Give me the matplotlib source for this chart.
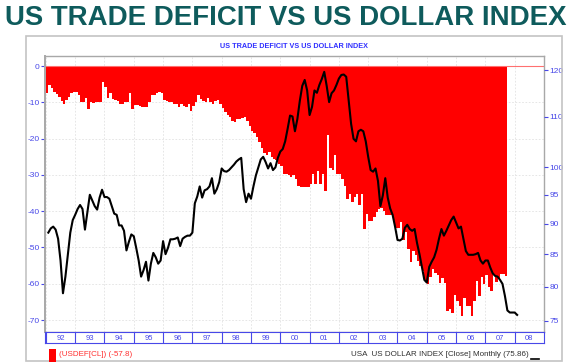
import matplotlib
matplotlib.use("Agg")
import matplotlib.pyplot as plt
from matplotlib.patches import Rectangle
from matplotlib.lines import Line2D
import numpy as np

# US trade deficit, monthly, Jan 1992 .. Sep 2007 (billions USD)
deficit_1992_1995 = [
    -7.5, -5.3, -6.0, -7.0, -7.7, -8.6, -9.5, -10.3, -9.4, -8.5, -7.5, -7.2,
    -7.2, -8.0, -10.0, -10.0, -8.7, -11.7, -10.0, -10.2, -10.0, -9.8, -10.0, -4.3,
    -5.7, -8.7, -7.4, -9.0, -9.3, -9.5, -10.3, -10.3, -10.0, -10.0, -7.3, -11.7,
    -10.8, -10.8, -11.0, -11.3, -11.3, -11.3, -10.0, -8.0, -8.0, -7.5, -7.0, -7.5,
]
deficit_1996_1999 = [
    -9.4, -9.6, -9.9, -9.9, -10.4, -10.4, -11.3, -10.4, -11.0, -11.3, -10.5, -12.4,
    -11.0, -10.0, -8.0, -9.0, -9.5, -10.0, -8.7, -10.0, -10.4, -9.5, -9.2, -10.5,
    -11.5, -12.7, -13.5, -14.0, -15.0, -15.5, -14.5, -14.5, -14.3, -14.0, -15.0, -16.5,
    -17.9, -18.5, -19.6, -21.0, -22.5, -24.0, -24.6, -23.6, -25.0, -25.5, -26.0, -27.0,
]
deficit_2000_2003 = [
    -27.5, -29.6, -29.6, -30.0, -30.6, -30.0, -31.0, -33.0, -33.4, -33.4, -33.4, -33.4,
    -32.5, -29.7, -32.5, -28.8, -32.5, -29.7, -34.3, -19.0, -28.0, -28.5, -24.6, -29.7,
    -29.7, -31.0, -33.0, -36.6, -35.2, -37.5, -36.0, -35.2, -38.4, -35.2, -44.9, -40.8,
    -42.6, -42.6, -41.7, -40.2, -39.5, -39.0, -39.8, -41.0, -41.0, -41.0, -43.0, -44.5,
]
deficit_2004_2007 = [
    -44.5, -43.0, -48.0, -45.7, -50.4, -54.0, -51.0, -52.0, -53.6, -55.0, -56.4, -59.2,
    -60.0, -58.0, -56.0, -57.0, -57.6, -59.8, -58.5, -59.8, -67.5, -67.0, -68.0, -63.0,
    -64.7, -66.0, -68.9, -64.0, -66.2, -66.2, -68.9, -64.7, -59.2, -63.3, -58.1, -60.0,
    -57.7, -60.9, -62.0, -57.3, -59.6, -58.7, -57.3, -57.3, -57.8,
]
deficit = deficit_1992_1995 + deficit_1996_1999 + deficit_2000_2003 + deficit_2004_2007

# US dollar index, monthly close, Jan 1992 .. Jan 2008
dollar_1992_1995 = [
    88.5, 89.2, 89.5, 89.0, 87.5, 84.0, 79.0, 81.5, 85.0, 88.5, 90.6, 91.5,
    92.5, 93.2, 92.5, 89.0, 92.0, 95.0, 94.0, 93.0, 92.4, 94.5, 95.9, 94.6,
    94.6, 94.3, 93.0, 91.7, 91.5, 89.7, 89.7, 88.8, 85.6, 87.0, 88.2, 87.9,
    86.0, 84.0, 81.5, 82.5, 83.8, 80.9, 83.5, 85.2, 84.5, 83.5, 84.0, 87.1,
]
dollar_1996_1999 = [
    85.0, 86.0, 87.4, 87.4, 87.5, 87.7, 86.3, 87.5, 87.8, 88.0, 88.0, 88.5,
    93.5, 94.7, 96.5, 94.5, 95.8, 96.0, 96.5, 98.0, 95.2, 96.0, 97.3, 99.8,
    99.3, 99.2, 99.5, 100.0, 100.5, 101.1, 101.5, 101.8, 96.0, 93.7, 95.2, 94.3,
    96.5, 98.5, 100.0, 101.5, 102.0, 101.0, 99.8, 100.8, 99.5, 100.0, 101.8, 103.0,
]
dollar_2000_2003 = [
    103.5, 105.0, 107.5, 110.2, 110.0, 107.0, 109.5, 113.3, 116.5, 117.8, 115.5, 110.3,
    112.0, 115.5, 115.0, 116.7, 118.0, 119.6, 116.5, 113.0, 114.9, 115.5, 116.7, 118.1,
    118.9, 119.0, 118.5, 113.5, 108.5, 105.5, 105.0, 107.0, 107.3, 107.0, 105.0, 102.0,
    99.5, 99.2, 99.8, 97.5, 93.0, 94.9, 98.0, 94.5, 92.6, 91.5, 89.5, 87.3,
]
dollar_2004_2008 = [
    87.2, 87.5, 89.3, 89.8, 89.1, 88.8, 89.1, 86.8, 85.0, 83.0, 81.0, 80.6,
    83.0, 83.8, 84.5, 85.7, 87.5, 89.1, 88.0, 88.8, 89.7, 90.6, 91.2, 90.2,
    89.2, 89.5, 87.5, 85.5, 84.9, 84.9, 84.9, 85.0, 85.2, 84.0, 83.5, 84.0,
    84.0, 82.9, 82.0, 81.6, 81.5, 81.0, 80.4, 78.6, 76.5, 76.2, 76.2, 76.2,
    75.86,
]
dollar = dollar_1992_1995 + dollar_1996_1999 + dollar_2000_2003 + dollar_2004_2008

years = list(range(1992, 2009))
year_labels = ["92", "93", "94", "95", "96", "97", "98", "99", "00",
               "01", "02", "03", "04", "05", "06", "07", "08"]
left_ticks = [0, -10, -20, -30, -40, -50, -60, -70]
right_ticks = [75, 80, 85, 90, 95, 100, 110, 120]

plt.rcParams['axes.unicode_minus'] = False
plt.rcParams['font.family'] = ['Liberation Sans', 'DejaVu Sans']

W, H = 578, 363
fig = plt.figure(figsize=(W / 100, H / 100), dpi=100)
fig.patch.set_facecolor('white')

blue = '#4848e8'
teal = '#0e5b5c'

def box(x0, y0, x1, y1):
    # pixel box (top-left origin) -> figure fraction rect
    return [x0 / W, 1 - y1 / H, (x1 - x0) / W, (y1 - y0) / H]

# outer frame
fig.add_artist(Rectangle((26 / W, 1 - 361 / H), (562 - 26) / W, (361 - 36) / H,
                         transform=fig.transFigure, fill=False,
                         edgecolor='#c4c4c4', lw=1.2))

# big title, fitted to width
title = fig.text(0.495, 1 - 18 / H, 'US TRADE DEFICIT VS US DOLLAR INDEX',
                 ha='center', va='center', color=teal, fontweight='bold',
                 fontsize=30, family=['Liberation Sans Narrow', 'Liberation Sans'])
fig.canvas.draw()
w = title.get_window_extent().width
title.set_fontsize(30 * 562 / w)

fig.text(294 / W, 1 - 46 / H, 'US TRADE DEFICIT VS US DOLLAR INDEX',
         ha='center', va='center', color='#3030ff', fontsize=5.2, fontweight='bold')

ax = fig.add_axes(box(45, 56, 544, 332))
x_edges = 1992 + np.arange(len(deficit) + 1) / 12
ax.stairs(deficit, x_edges, baseline=0, fill=True, color='#ff0000', lw=0, zorder=2)
ax.axhline(0, color='#ff7070', lw=0.8, zorder=2)
ax.set_xlim(1991.97, 2009)
ax.set_ylim(-73.3, 2.8)
ax.set_yticks(left_ticks)
ax.set_yticklabels([str(v) for v in left_ticks])
ax.set_xticks(years)
ax.tick_params(axis='x', length=0, labelbottom=False)
ax.tick_params(axis='y', colors=blue, labelsize=6, length=3, width=0.8, pad=1)
ax.grid(True, color='#e2e2e2', lw=0.6, ls=(0, (2, 2)), zorder=0)
ax.set_axisbelow(True)
for s in ax.spines.values():
    s.set_color('#a8a8a8')
    s.set_linewidth(1.0)
ax.spines['left'].set_linewidth(1.4)

ax2 = ax.twinx()
ax2.set_yscale('log')
ax2.set_ylim(73.47, 123.2)
x_dollar = 1992 + np.arange(1, len(dollar) + 1) / 12
ax2.plot(x_dollar, dollar, color='black', lw=1.5, zorder=3)
ax2.set_yticks(right_ticks)
ax2.set_yticklabels([str(v) for v in right_ticks])
ax2.yaxis.set_minor_locator(matplotlib.ticker.NullLocator())
ax2.tick_params(axis='y', colors=blue, labelsize=6, length=3, width=0.8, pad=1)
for s in ax2.spines.values():
    s.set_visible(False)

# year strip
axy = fig.add_axes(box(45, 332, 544, 343))
axy.set_xlim(ax.get_xlim())
axy.set_ylim(0, 1)
axy.vlines(years, 0, 1, color=blue, lw=0.8)
for yr, lab in zip(years, year_labels):
    axy.text(yr + 0.5, 0.45, lab, ha='center', va='center', color=blue, fontsize=5.5)
axy.set_xticks([])
axy.set_yticks([])
for s in axy.spines.values():
    s.set_color(blue)
    s.set_linewidth(0.8)

# legend row
fig.add_artist(Rectangle((49 / W, 1 - 362 / H), 7 / W, 13 / H,
                         transform=fig.transFigure, color='#ff0000', lw=0))
fig.text(59 / W, 1 - 355 / H, f'(USDEF[CL]) ({deficit[-1]})', ha='left', va='center',
         color='#ff3030', fontsize=5.8)
fig.text(529 / W, 1 - 355 / H, f'USA  US DOLLAR INDEX [Close] Monthly ({dollar[-1]})',
         ha='right', va='center', color='#303030', fontsize=5.8)
fig.add_artist(Line2D([531 / W, 539 / W], [1 - 359 / H, 1 - 359 / H],
                      transform=fig.transFigure, color='black', lw=1.2))

fig.savefig('out.png', dpi=100)
